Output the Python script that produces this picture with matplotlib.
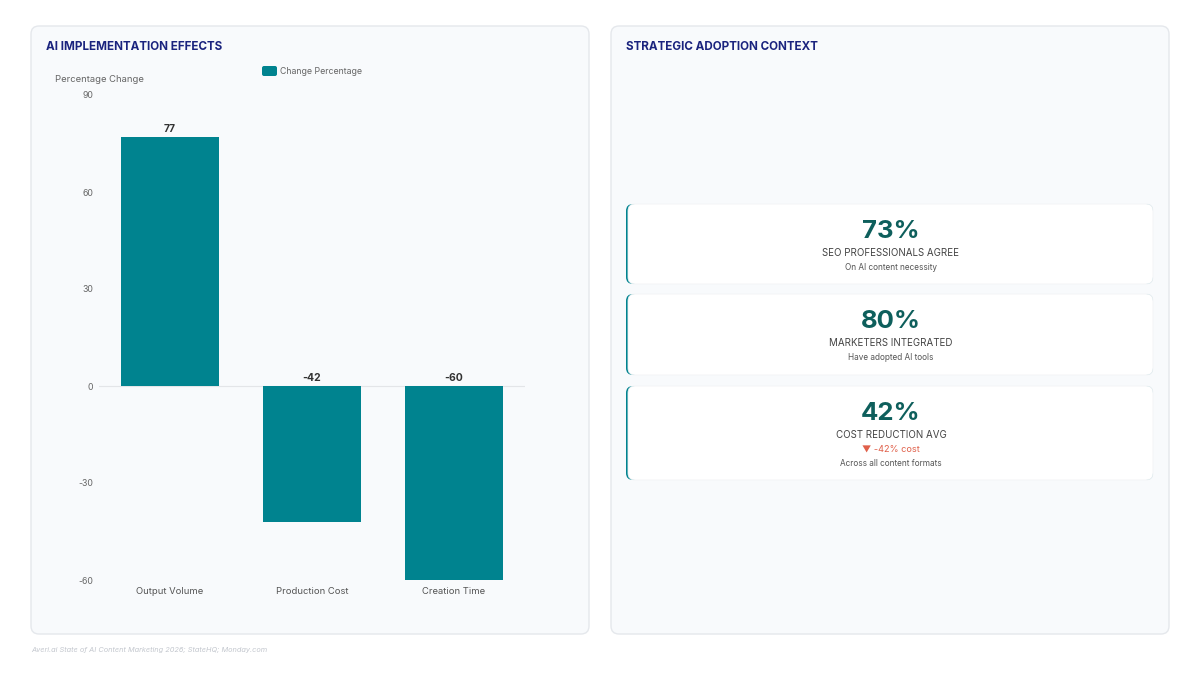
import matplotlib.pyplot as plt
from matplotlib.patches import FancyBboxPatch

plt.rcParams["font.family"] = ["Inter", "DejaVu Sans"]
plt.rcParams["axes.unicode_minus"] = False

# 데이터
categories = ["Output Volume", "Production Cost", "Creation Time"]
changes = [77, -42, -60]
y_ticks = [-60, -30, 0, 30, 60, 90]

card_values = ["73%", "80%", "42%"]
card_labels = ["SEO PROFESSIONALS AGREE", "MARKETERS INTEGRATED", "COST REDUCTION AVG"]
card_notes = ["On AI content necessity", "Have adopted AI tools", "Across all content formats"]
card_deltas = [None, None, "▼ -42% cost"]

source = "Averi.ai State of AI Content Marketing 2026; StateHQ; Monday.com"

TEAL = "#00838f"
DARK_TEAL = "#0e5f5c"
NAVY = "#1a237e"

W, H = 1200, 675
fig = plt.figure(figsize=(12, 6.75), dpi=100)
fig.patch.set_facecolor("white")

# 배경 (픽셀 좌표)
bg = fig.add_axes([0, 0, 1, 1])
bg.set_xlim(0, W)
bg.set_ylim(H, 0)
bg.axis("off")


def box(x, y, w, h, fc, ec="none", r=6, lw=1, z=1):
    p = FancyBboxPatch((x, y), w, h, boxstyle=f"round,pad=0,rounding_size={r}",
                       fc=fc, ec=ec, lw=lw, zorder=z)
    bg.add_patch(p)


# panels
box(31, 26, 558, 608, "#f8fafc", "#e5e8ec", r=8)
box(611, 26, 558, 608, "#f8fafc", "#e5e8ec", r=8)

bg.text(46, 47.5, "AI IMPLEMENTATION EFFECTS", color=NAVY, fontsize=8.4,
        fontweight="bold", va="center", ha="left")
bg.text(626, 47.5, "STRATEGIC ADOPTION CONTEXT", color=NAVY, fontsize=8.4,
        fontweight="bold", va="center", ha="left")

# legend
box(262, 66, 15, 10, TEAL, r=2, z=3)
bg.text(280, 71, "Change Percentage", color="#666666", fontsize=6.3, va="center", ha="left")
bg.text(55, 80, "Percentage Change", color="#666666", fontsize=6.8, va="center", ha="left")

# cards
card_top = [204, 294, 386]
card_h = [80, 81, 94]
for i, (val, lab, note, delta) in enumerate(zip(card_values, card_labels, card_notes, card_deltas)):
    top = card_top[i]
    h = card_h[i]
    box(626, top, 527, h, TEAL, r=7, z=2)
    box(628, top, 525, h, "white", "#f1f3f5", r=7, lw=0.6, z=3)
    cx = 891
    bg.text(cx, top + 28, val, color=DARK_TEAL, fontsize=18.5, fontweight="bold",
            ha="center", va="center", zorder=4)
    bg.text(cx, top + 49, lab, color="#444444", fontsize=7, ha="center", va="center", zorder=4)
    y = top + 63
    if delta:
        bg.text(cx, y, delta, color="#e0604a", fontsize=6.6, ha="center", va="center", zorder=4)
        y += 14
    bg.text(cx, y, note, color="#555555", fontsize=5.9, ha="center", va="center", zorder=4)

bg.text(31, 650, source, color="#c3c7ce", fontsize=5.3, style="italic", va="center", ha="left")

# 막대 차트
ax = fig.add_axes([99 / W, 1 - 580 / H, 426 / W, 485 / H])
ax.patch.set_alpha(0)
bars = ax.bar(categories, changes, width=0.69, color=TEAL, zorder=2)
ax.set_xlim(-0.5, len(categories) - 0.5)
ax.set_ylim(y_ticks[0], y_ticks[-1])
ax.set_yticks(y_ticks)
ax.axhline(0, color="#e3e5e8", lw=0.8, zorder=1)
for s in ax.spines.values():
    s.set_visible(False)
ax.tick_params(axis="y", length=0, labelsize=6.3, labelcolor="#666666", pad=4)
ax.tick_params(axis="x", length=0, labelsize=6.8, labelcolor="#555555", pad=5)

for i, v in enumerate(changes):
    y = v if v > 0 else 0
    ax.annotate(f"{v}", (i, y), xytext=(0, 2), textcoords="offset points",
                ha="center", va="bottom", fontsize=7.5, fontweight="bold", color="#333333")

fig.savefig("out.png", dpi=100, facecolor="white")
